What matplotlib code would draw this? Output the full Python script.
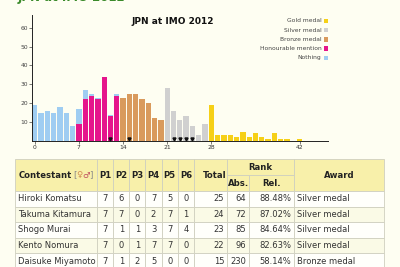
import matplotlib
matplotlib.use("Agg")
import matplotlib.pyplot as plt
from matplotlib.patches import Rectangle
import numpy as np

# ---------------- data ----------------
scores = list(range(0, 43))
nothing = [19, 15, 16, 15, 18, 15, 8, 8, 5, 1, 1, 0, 1, 1] + [0] * 29
honourable = [0] * 7 + [9, 22, 24, 22, 34, 13, 24] + [0] * 29
bronze = [0] * 14 + [23, 25, 25, 22, 20, 12, 11] + [0] * 22
silver = [0] * 21 + [28, 16, 11, 13, 8, 3, 9] + [0] * 15
gold = [0] * 28 + [19, 3, 3, 3, 2, 5, 2, 4, 2, 1, 4, 1, 1, 0, 1]
team_scores = [25, 24, 23, 22, 15, 12]
x_ticks = [0, 7, 14, 21, 28, 42]
y_ticks = [10, 20, 30, 40, 50, 60]
legend_labels = ["Gold medal", "Silver medal", "Bronze medal", "Honourable mention", "Nothing"]

names = ["Hiroki Komatsu", "Takuma Kitamura", "Shogo Murai", "Kento Nomura", "Daisuke Miyamoto"]
problem_scores = [[7, 6, 0, 7, 5, 0],
                  [7, 7, 0, 2, 7, 1],
                  [7, 1, 1, 3, 7, 4],
                  [7, 0, 1, 7, 7, 0],
                  [7, 1, 2, 5, 0, 0]]
totals = [25, 24, 23, 22, 15]
abs_rank = [64, 72, 85, 96, 230]
rel_rank = ["88.48%", "87.02%", "84.64%", "82.63%", "58.14%"]
awards = ["Silver medal", "Silver medal", "Silver medal", "Silver medal", "Bronze medal"]

# ---------------- style ----------------
BG = "#fefef2"
C_NOTHING = "#9fcdf2"
C_HM = "#e5158c"
C_BRONZE = "#d99a5c"
C_SILVER = "#d0d0d0"
C_GOLD = "#f6d017"
W, H = 400, 267

fig = plt.figure(figsize=(4.0, 2.67), dpi=100)
fig.patch.set_facecolor(BG)

# overlay in pixel coordinates for page elements
ov = fig.add_axes([0, 0, 1, 1])
ov.set_xlim(0, W)
ov.set_ylim(H, 0)
ov.axis("off")
ov.patch.set_alpha(0)

# cut-off page heading (only its lower edge is visible in the reference)
ov.text(18, -2.0, "JPN at IMO 2012", color="#3a8a2a", fontsize=8.5, fontweight="bold",
        ha="left", va="center", clip_on=True)

# ---------------- chart ----------------
ax = fig.add_axes([32 / W, (H - 141) / H, 296 / W, 126 / H])
ax.set_facecolor("none")
x = np.array(scores)
bw = 0.84
ax.bar(x, nothing, width=bw, color=C_NOTHING, bottom=np.array(honourable), linewidth=0)
ax.bar(x, honourable, width=bw, color=C_HM, linewidth=0)
ax.bar(x, bronze, width=bw, color=C_BRONZE, linewidth=0)
ax.bar(x, silver, width=bw, color=C_SILVER, linewidth=0)
ax.bar(x, gold, width=bw, color=C_GOLD, linewidth=0)
ax.plot(team_scores, [0.9] * len(team_scores), linestyle="none", marker="v",
        markersize=2.2, color="#111111", clip_on=False, zorder=5)

ax.set_xlim(-0.45, 46.5)
ax.set_ylim(0, 66.7)
for s in ("top", "right"):
    ax.spines[s].set_visible(False)
for s in ("left", "bottom"):
    ax.spines[s].set_linewidth(0.7)
    ax.spines[s].set_color("#222222")
ax.set_xticks(x_ticks)
ax.set_yticks(y_ticks)
ax.tick_params(axis="both", labelsize=4.3, colors="#444444", length=2, width=0.5, pad=1)
ax.tick_params(axis="x", labelcolor="#333333")

ov.text(173, 22, "JPN at IMO 2012", fontsize=6.5, fontweight="bold", color="#111111",
        ha="center", va="center")

# legend
leg_colors = [C_GOLD, C_SILVER, C_BRONZE, C_HM, C_NOTHING]
leg_y = [21, 30, 39.3, 48.5, 57.8]
for lab, col, yy in zip(legend_labels, leg_colors, leg_y):
    ov.text(321.5, yy, lab, fontsize=4.3, color="#444444", ha="right", va="center")
    ov.add_patch(Rectangle((323.5, yy - 2.3), 4.6, 4.6, facecolor=col, edgecolor="none"))

# ---------------- table ----------------
col_edges = [15, 96.7, 113.3, 129.3, 145.3, 161.7, 177.7, 194, 227.3, 249, 294.3, 384]
head_top, head_mid, head_bot = 159, 175, 191
row_h = 15.6
HEAD_BG = "#f8f0aa"
EDGE = "#cfcfbf"
ROW_BG = ["#fffffb", "#fafae6"]
TXT = "#333333"
fs = 6.0
hfs = 6.1

def cell(x0, y0, x1, y1, fc):
    ov.add_patch(Rectangle((x0, y0), x1 - x0, y1 - y0, facecolor=fc, edgecolor=EDGE, linewidth=0.6))

# header cells
for i in range(len(col_edges) - 1):
    if i in (8, 9):
        continue
    cell(col_edges[i], head_top, col_edges[i + 1], head_bot, HEAD_BG)
cell(col_edges[8], head_top, col_edges[10], head_mid, HEAD_BG)
cell(col_edges[8], head_mid, col_edges[9], head_bot, HEAD_BG)
cell(col_edges[9], head_mid, col_edges[10], head_bot, HEAD_BG)

hy = (head_top + head_bot) / 2
ov.text(18.5, hy, "Contestant", fontsize=hfs, fontweight="bold", color="#222222", ha="left", va="center")
ov.text(73.5, hy, "[", fontsize=hfs, color="#888888", ha="left", va="center")
ov.text(76.5, hy, "♀", fontsize=hfs, color="#d08a50", ha="left", va="center")
ov.text(82.5, hy, "♂", fontsize=hfs, color="#c05060", ha="left", va="center")
ov.text(89.5, hy, "]", fontsize=hfs, color="#888888", ha="left", va="center")
for k in range(6):
    cx = (col_edges[1 + k] + col_edges[2 + k]) / 2
    ov.text(cx, hy, "P%d" % (k + 1), fontsize=hfs, fontweight="bold", color="#222222", ha="center", va="center")
ov.text(col_edges[8] - 1, hy, "Total", fontsize=hfs, fontweight="bold",
        color="#222222", ha="right", va="center")
ov.text((col_edges[8] + col_edges[10]) / 2, (head_top + head_mid) / 2, "Rank", fontsize=hfs,
        fontweight="bold", color="#222222", ha="center", va="center")
ov.text((col_edges[8] + col_edges[9]) / 2, (head_mid + head_bot) / 2, "Abs.", fontsize=hfs,
        fontweight="bold", color="#222222", ha="center", va="center")
ov.text((col_edges[9] + col_edges[10]) / 2, (head_mid + head_bot) / 2, "Rel.", fontsize=hfs,
        fontweight="bold", color="#222222", ha="center", va="center")
ov.text((col_edges[10] + col_edges[11]) / 2, hy, "Award", fontsize=hfs, fontweight="bold",
        color="#222222", ha="center", va="center")

for r in range(len(names)):
    y0 = head_bot + r * row_h
    y1 = y0 + row_h
    ym = (y0 + y1) / 2
    bg = ROW_BG[r % 2]
    for i in range(len(col_edges) - 1):
        cell(col_edges[i], y0, col_edges[i + 1], y1, bg)
    ov.text(18.5, ym, names[r], fontsize=fs, color=TXT, ha="left", va="center")
    for k in range(6):
        cx = (col_edges[1 + k] + col_edges[2 + k]) / 2
        ov.text(cx, ym, str(problem_scores[r][k]), fontsize=fs, color=TXT, ha="center", va="center")
    ov.text(col_edges[8] - 3, ym, str(totals[r]), fontsize=fs, color=TXT, ha="right", va="center")
    ov.text(col_edges[9] - 3, ym, str(abs_rank[r]), fontsize=fs, color=TXT, ha="right", va="center")
    ov.text(col_edges[10] - 3, ym, rel_rank[r], fontsize=fs, color=TXT, ha="right", va="center")
    ov.text(col_edges[10] + 3, ym, awards[r], fontsize=fs, color=TXT, ha="left", va="center")

fig.savefig("out.png", dpi=100, facecolor=BG)
